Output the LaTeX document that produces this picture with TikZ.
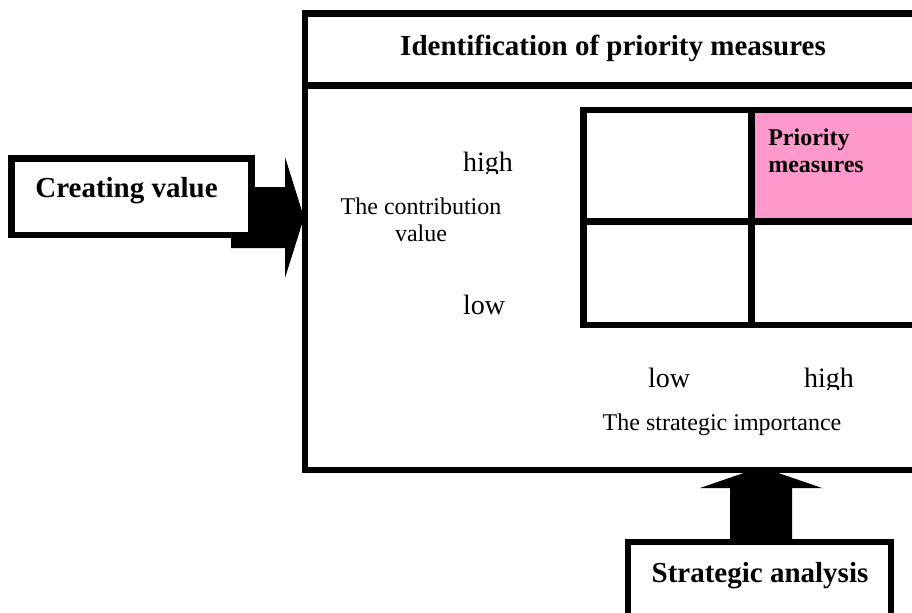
\documentclass[tikz,border=0pt]{standalone}
\usepackage{fontspec}
\setmainfont{Liberation Serif}
\usetikzlibrary{fit}
\definecolor{pinkcell}{HTML}{FF99CC}
\begin{document}
\begin{tikzpicture}[x=0.75pt,y=-0.75pt,
  frame/.style={draw=black,line width=5.1pt,inner sep=0pt},
  heavy/.style={font=\fontsize{21.75}{26}\selectfont\bfseries,anchor=base,inner sep=0pt},
  axisval/.style={font=\fontsize{21}{25}\selectfont,anchor=base,inner sep=0pt},
  axisname/.style={font=\fontsize{18}{20.25}\selectfont,anchor=base,inner sep=0pt,align=center},
  celltext/.style={font=\fontsize{18}{20.25}\selectfont\bfseries,anchor=base west,inner sep=0pt,align=left},
  blockarrow/.style={fill=black}]
\useasboundingbox (0,0) rectangle (912,612);
\clip (0,0) rectangle (912,612);

% corner points of the boxes
\coordinate (m1) at (305,13.5);   \coordinate (m2) at (940,470);
\coordinate (c1) at (11.5,158.5); \coordinate (c2) at (251.5,235);
\coordinate (s1) at (628,542);    \coordinate (s2) at (891,640);
\coordinate (g1) at (583.5,110);  \coordinate (g2) at (940,325);

% block arrows feeding the main box
\fill[blockarrow] (231,187) -- (285,187) -- (285,157) -- (304,217.5)
  -- (285,278) -- (285,248) -- (231,248) -- cycle;
\fill[blockarrow] (730,545) -- (730,488) -- (700,488) -- (761,467)
  -- (822,488) -- (792,488) -- (792,545) -- cycle;

% main box with title bar
\node[frame,fill=white,fit=(m1)(m2)] (main) {};
\coordinate (sepL) at (305,85.5);
\draw[line width=5.1pt] (sepL) -- (sepL -| main.east);
\node[heavy] (title) at (613,55) {Identification of priority measures};

% 2x2 matrix
\fill[pinkcell] (751.5,110) rectangle (940,221.5);
\node[frame,fit=(g1)(g2)] (grid) {};
\coordinate (gv) at (751.5,110);
\coordinate (gh) at (583.5,221.5);
\draw[line width=5.1pt] (gv) -- (gv |- grid.south);
\draw[line width=5.1pt] (gh) -- (gh -| grid.east);
\node[celltext] (prio) at (768,172) {Priority\\measures};

% axis labels
\begin{scope}
  \clip (440,140) rectangle (540,173);
  \node[axisval] (yhigh) at (488,171) {high};
\end{scope}
\node[axisval] (ylow) at (484,314) {low};
\node[axisname] (yname) at (421,241) {The contribution\\value};
\node[axisval] (xlow) at (669,387) {low};
\begin{scope}
  \clip (780,355) rectangle (880,389);
  \node[axisval] (xhigh) at (829,387) {high};
\end{scope}
\node[axisname] (xname) at (722,430) {The strategic importance};

% input boxes
\node[frame,fill=white,fit=(c1)(c2)] (create) {};
\node[heavy] (createtxt) at (126.5,197) {Creating value};
\node[frame,fill=white,fit=(s1)(s2)] (strat) {};
\node[heavy] (strattxt) at (760,582) {Strategic analysis};
\end{tikzpicture}
\end{document}
